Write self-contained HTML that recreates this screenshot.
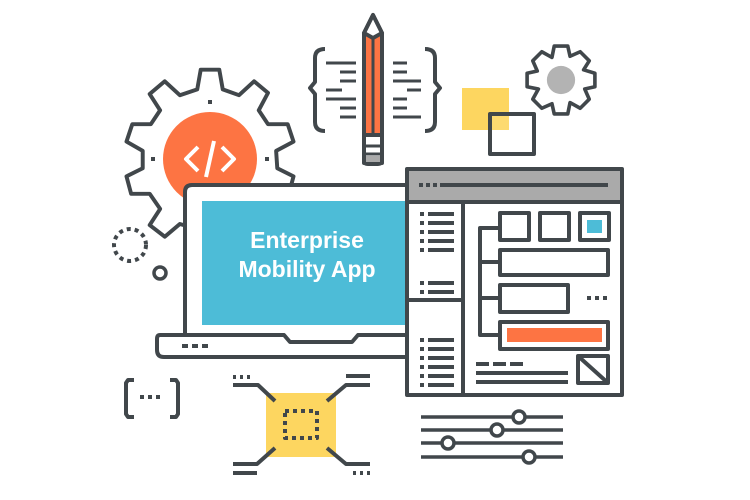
<!DOCTYPE html>
<html><head><style>body{margin:0;background:#fff}svg{display:block}</style></head><body>
<svg width="750" height="500" viewBox="0 0 750 500" xmlns="http://www.w3.org/2000/svg">
<g fill="none" stroke="#41474b" stroke-width="4" stroke-linejoin="round">
<!-- big gear -->
<g transform="translate(210,159)">
<path transform="scale(1.16)" stroke-width="3.4" d="M-8,-77 L8,-77 L11,-60 L25,-55 L38,-67 L50,-57 L42,-42 L50,-30 L67,-30 L72,-15 L57,-7 L58,8 L72,15 L68,30 L52,30 L44,43 L53,57 L40,67 L27,56 L13,60 L9,77 L-9,77 L-12,60 L-26,56 L-39,67 L-52,57 L-43,43 L-52,30 L-68,30 L-72,15 L-58,8 L-58,-7 L-72,-15 L-67,-30 L-51,-30 L-43,-42 L-52,-56 L-39,-67 L-26,-55 L-11,-60 Z"/>
<circle r="47" fill="#fd7443" stroke="none"/>
<path d="M-12,-12 L-24,0 L-12,12 M12,-12 L24,0 L12,12 M4,-18 L-4,18" stroke="#fff" stroke-width="4"/>
<rect x="-2" y="-59" width="4" height="4" fill="#41474b" stroke="none"/>
<rect x="-59" y="-2" width="4" height="4" fill="#41474b" stroke="none"/>
<rect x="55" y="-2" width="4" height="4" fill="#41474b" stroke="none"/>
</g>
<!-- braces -->
<path d="M325,49 Q315,49 315,58 L315,82 L310,88 L315,94 L315,122 Q315,131 325,131"/>
<path d="M425,49 Q435,49 435,58 L435,82 L440,88 L435,94 L435,122 Q435,131 425,131"/>
<path d="M326,63h30M340,72h16M340,81h16M326,90h16M326,99h30M340,108h16M340,117h16" stroke-width="3"/>
<path d="M393,63h14M393,72h14M393,81h28M407,90h14M393,99h14M393,108h14M393,117h28" stroke-width="3"/>
<!-- pencil -->
<path d="M364,33 L373,15 L382,33 L382,160 Q382,164 378,164 L368,164 Q364,164 364,160 Z" fill="#fd7443"/>
<path d="M373,36 L373,135" stroke-width="3"/>
<path d="M364,33 L373,38 L382,33 L373,15Z" fill="#fff"/>
<rect x="364" y="135" width="18" height="28" fill="#fff"/>
<path d="M364,146h18M364,154h18" stroke-width="3"/>
<rect x="366" y="156" width="14" height="6" fill="#aaa" stroke="none"/>
<!-- squares -->
<rect x="462" y="88" width="47" height="42" fill="#fdd660" stroke="none"/>
<rect x="490" y="114" width="44" height="40" fill="rgba(255,255,255,0.1)"/>
<!-- small gear -->
<g transform="translate(561,80) scale(1.13)">
<path d="M-6,-30 L6,-30 L8,-21 L17,-25 L25,-17 L20,-9 L30,-6 L30,6 L21,8 L25,17 L17,25 L8,20 L6,30 L-6,30 L-8,21 L-17,25 L-25,17 L-20,8 L-30,6 L-30,-6 L-21,-8 L-25,-17 L-17,-25 L-8,-20 Z" stroke-width="3.2"/>
<circle r="12.5" fill="#b3b3b3" stroke="none"/>
</g>
<!-- dashed circle, small circle -->
<circle cx="130" cy="245" r="16" stroke-width="4" stroke-dasharray="4 4"/>
<circle cx="160" cy="273" r="6" stroke-width="3.5"/>
<!-- bracket -->
<path d="M134,380 L128,380 L126,383 L126,414 L128,417 L134,417 M170,380 L176,380 L178,383 L178,414 L176,417 L170,417"/>
<path d="M140,397h4M148,397h4M156,397h4" stroke-width="4"/>
<!-- laptop -->
<path d="M185,333 L185,192 Q185,185 192,185 L410,185" fill="#fff"/>
<rect x="202" y="201" width="208" height="124" fill="#4dbcd7" stroke="none"/>
<path d="M410,335 L358,335 L352,342 L290,342 L284,335 L160,335 Q157,335 157,339 L157,350 Q157,357 164,357 L410,357" fill="#fff"/>
<path d="M182,346h6M192,346h6M202,346h6" stroke-width="4"/>
<!-- browser -->
<rect x="407" y="169" width="215" height="226" fill="#fff"/>
<rect x="409" y="171" width="211" height="31" fill="#aaaaaa" stroke="none"/>
<path d="M407,202h215" />
<path d="M419,185h4M426,185h4M433,185h4M440,185h168" stroke-width="4"/>
<path d="M463,202v193M407,300h56"/>
<path d="M420,214h4M420,223h4M420,232h4M420,241h4M420,250h4M428,214h26M428,223h26M428,232h26M428,241h26M428,250h26" stroke-width="4"/>
<path d="M420,283h4M420,292h4M428,283h26M428,292h26" stroke-width="4"/>
<path d="M420,340h4M420,349h4M420,358h4M420,367h4M420,376h4M420,385h4M428,340h26M428,349h26M428,358h26M428,367h26M428,376h26M428,385h26" stroke-width="4"/>
<rect x="500" y="213" width="29" height="27"/>
<rect x="540" y="213" width="29" height="27"/>
<rect x="580" y="213" width="29" height="27"/>
<rect x="587" y="220" width="15" height="13" fill="#4dbcd7" stroke="none"/>
<rect x="500" y="250" width="108" height="25"/>
<rect x="500" y="285" width="68" height="27"/>
<rect x="500" y="322" width="108" height="27"/>
<rect x="507" y="328" width="95" height="14" fill="#fd7443" stroke="none"/>
<path d="M500,228 L480,228 L480,335 L500,335 M480,262h20M480,298h20"/>
<path d="M587,298h4M595,298h4M603,298h4" stroke-width="4"/>
<rect x="578" y="356" width="30" height="27"/>
<path d="M578,356 L608,383"/>
<path d="M476,364h13M493,364h13M510,364h13M476,373h92M476,382h92" stroke-width="4"/>
<!-- chip -->
<rect x="266" y="393" width="70" height="64" fill="#fdd660" stroke="none"/>
<rect x="285" y="411" width="32" height="27" stroke-dasharray="4 4" stroke-width="4"/>
<path d="M233,377h3M240,377h3M247,377h3M233,385h25L275,401M370,376h-24M370,385h-24L327,401M233,473h24M233,464h24L275,448M370,473h-3M363,473h-3M356,473h-3M370,464h-24L327,448" stroke-width="4"/>
<!-- sliders -->
<path d="M421,417h92M525,417h38M421,430h70M503,430h60M421,443h21M454,443h109M421,457h102M535,457h28" stroke-width="3.5"/>
<circle cx="519" cy="417" r="6" fill="#fff" stroke-width="3.5"/>
<circle cx="497" cy="430" r="6" fill="#fff" stroke-width="3.5"/>
<circle cx="448" cy="443" r="6" fill="#fff" stroke-width="3.5"/>
<circle cx="529" cy="457" r="6" fill="#fff" stroke-width="3.5"/>
</g>
<g font-family="Liberation Sans, sans-serif" font-weight="bold" font-size="23" fill="#fff" text-anchor="middle">
<text x="307" y="248">Enterprise</text>
<text x="307" y="277">Mobility App</text>
</g>
</svg>
</body></html>
